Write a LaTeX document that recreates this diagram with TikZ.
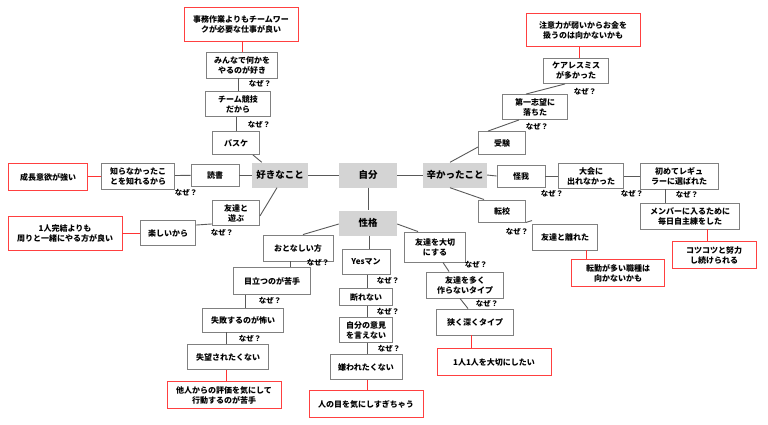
\documentclass[tikz,border=0pt]{standalone}
\usepackage{fontspec}
\setmainfont{Noto Sans CJK JP}
\begin{document}
\begin{tikzpicture}[x=1pt,y=-1pt,
 b/.style={draw=black!50,line width=0.9pt,fill=white,align=center,font=\fontsize{8}{10}\selectfont\bfseries,inner sep=1pt},
 g/.style={fill=black!17,align=center,font=\fontsize{9.5}{11}\selectfont\bfseries,minimum height=25pt},
 r/.style={draw=red!75!white,line width=0.9pt,fill=white,align=center,font=\fontsize{8}{10}\selectfont\bfseries,inner sep=1pt},
 ln/.style={draw=black!65,line width=0.9pt},
 rl/.style={draw=red!80!white,line width=1pt},
 q/.style={font=\fontsize{7.5}{9}\selectfont\bfseries}]
\useasboundingbox (0,0) rectangle (768,425);
\def\B#1#2#3#4#5#6{\node[#1,minimum width=#4pt,minimum height=#5pt] (#2) at #3 {#6};}
% centre
\node[g,minimum width=58pt] (me) at (368,175) {自分};
\node[g,minimum width=56pt] (like) at (280,175) {好きなこと};
\node[g,minimum width=60pt] (hard) at (455,175) {辛かったこと};
\node[g,minimum width=58pt] (per) at (368,223) {性格};
% like branch
\B{b}{bask}{(236,143)}{47}{23}{バスケ}
\B{b}{team}{(238,104)}{65}{25}{チーム競技\\だから}
\B{b}{minna}{(242,65)}{71}{26}{みんなで何かを\\やるのが好き}
\B{r}{jimu}{(241,24)}{114}{34}{事務作業よりもチームワー\\クが必要な仕事が良い}
\B{b}{doku}{(215,175)}{48}{22}{読書}
\B{b}{shira}{(138,176)}{73}{26}{知らなかったこ\\とを知れるから}
\B{r}{seicho}{(48,177)}{79}{27}{成長意欲が強い}
\B{b}{asobu}{(236,213)}{47}{25}{友達と\\遊ぶ}
\B{b}{tano}{(168,233)}{55}{25}{楽しいから}
\B{r}{hitori}{(65,233)}{114}{34}{1人完結よりも\\周りと一緒にやる方が良い}
% hard branch
\B{b}{juken}{(502,143)}{47}{23}{受験}
\B{b}{dai1}{(535,107)}{65}{25}{第一志望に\\落ちた}
\B{b}{care}{(576,71)}{65}{25}{ケアレスミス\\が多かった}
\B{r}{chui}{(583,30)}{114}{33}{注意力が弱いからお金を\\扱うのは向かないかも}
\B{b}{kega}{(521,176)}{48}{22}{怪我}
\B{b}{taikai}{(591,176)}{65}{25}{大会に\\出れなかった}
\B{b}{hajime}{(679,176)}{78}{26}{初めてレギュ\\ラーに選ばれた}
\B{b}{member}{(690,216)}{99}{26}{メンバーに入るために\\毎日自主練をした}
\B{r}{kotsu}{(714,255)}{84}{27}{コツコツと努力\\し続けられる}
\B{b}{tenko}{(502,211)}{47}{22}{転校}
\B{b}{hanare}{(565,237)}{65}{26}{友達と離れた}
\B{r}{tenkin}{(618,273)}{93}{27}{転勤が多い職種は\\向かないかも}
% personality
\B{b}{taisetsu}{(435,247)}{61}{30}{友達を大切\\にする}
\B{b}{ooku}{(465,285)}{77}{26}{友達を多く\\作らないタイプ}
\B{b}{semaku}{(475,322)}{77}{26}{狭く深くタイプ}
\B{r}{hitori2}{(494,362)}{114}{27}{1人1人を大切にしたい}
\B{b}{yes}{(366,262)}{48}{25}{Yesマン}
\B{b}{kotowa}{(366,297)}{53}{17}{断れない}
\B{b}{iken}{(366,330)}{53}{25}{自分の意見\\を言えない}
\B{b}{kira}{(366,367)}{72}{25}{嫌われたくない}
\B{r}{hitome}{(366,404)}{114}{27}{人の目を気にしすぎちゃう}
\B{b}{otona}{(298,248)}{70}{26}{おとなしい方}
\B{b}{medatsu}{(272,281)}{77}{27}{目立つのが苦手}
\B{b}{shippai}{(243,320)}{81}{24}{失敗するのが怖い}
\B{b}{shitsubo}{(228,357)}{81}{25}{失望されたくない}
\B{r}{tanin}{(224,395)}{114}{27}{他人からの評価を気にして\\行動するのが苦手}
% connectors
\draw[ln] (me) -- (like);
\draw[ln] (me) -- (hard);
\draw[ln] (me) -- (per);
\draw[ln] ([xshift=10pt]like.north west) -- ([xshift=-7pt]bask.south east);
\draw[ln] (bask.north) -- (bask.north |- team.south);
\draw[ln] (team.north) -- (team.north |- minna.south);
\draw[rl] (minna.north) -- (minna.north |- jimu.south);
\draw[ln] (like) -- (doku);
\draw[ln] (doku) -- (shira);
\draw[rl] (shira.west) -- (seicho.east |- shira.west);
\draw[ln] ([xshift=-3pt]like.south) -- ([yshift=-3pt]asobu.east);
\draw[ln] ([yshift=2pt]asobu.south west) -- ([yshift=-5pt]tano.north east);
\draw[rl] (tano) -- (hitori);
\draw[ln] ([xshift=-5pt]hard.north) -- ([yshift=-4pt]juken.west);
\draw[ln] ([xshift=10pt]juken.north west) -- ([xshift=-16pt]dai1.south);
\draw[ln] ([xshift=24pt]dai1.north west) -- ([xshift=-11pt]care.south);
\draw[rl] ([xshift=3pt]care.north) -- ([xshift=3pt]care.north |- chui.south);
\draw[ln] (hard.east) -- (kega.west);
\draw[ln] (kega) -- (taikai);
\draw[ln] (taikai) -- (hajime);
\draw[ln] ([xshift=-14pt]hajime.south) -- ([xshift=-14pt]hajime.south |- member.north);
\draw[rl] ([xshift=17pt]member.south) -- ([xshift=17pt]member.south |- kotsu.north);
\draw[ln] ([xshift=-5pt]hard.south) -- ([xshift=6pt]tenko.north west);
\draw[ln] (tenko.south east) -- ([yshift=3pt]hanare.north west);
\draw[rl] ([xshift=21pt]hanare.south) -- ([xshift=21pt]hanare.south |- tenkin.north);
\draw[ln] ([yshift=-1pt]per.east) -- ([xshift=-17pt]taisetsu.north);
\draw[ln] ([xshift=8pt]taisetsu.south) -- ([xshift=-16pt]ooku.north);
\draw[ln] ([xshift=-5pt]ooku.south) -- ([xshift=-7pt]semaku.north);
\draw[rl] ([xshift=-4pt]semaku.south) -- ([xshift=-4pt]semaku.south |- hitori2.north);
\draw[ln] ([xshift=1pt]per.south) -- ([xshift=1pt]per.south |- yes.north);
\draw[ln] ([xshift=1pt]yes.south) -- ([xshift=1pt]yes.south |- kotowa.north);
\draw[ln] ([xshift=1pt]kotowa.south) -- ([xshift=1pt]kotowa.south |- iken.north);
\draw[ln] ([xshift=1pt]iken.south) -- ([xshift=1pt]iken.south |- kira.north);
\draw[rl] ([xshift=1pt]kira.south) -- ([xshift=1pt]kira.south |- hitome.north);
\draw[ln] ([yshift=-1pt]per.west) -- ([xshift=5pt]otona.north);
\draw[ln] ([xshift=-8pt]otona.south) -- ([xshift=-8pt]otona.south |- medatsu.north);
\draw[ln] ([xshift=-27pt]medatsu.south) -- ([xshift=-27pt]medatsu.south |- shippai.north);
\draw[ln] ([xshift=-17pt]shippai.south) -- ([xshift=-17pt]shippai.south |- shitsubo.north);
\draw[rl] ([xshift=-2pt]shitsubo.south) -- ([xshift=-2pt]shitsubo.south |- tanin.north);
% labels
\node[q] (q1) at (260,84) {なぜ？};
\node[q] (q2) at (259,125) {なぜ？};
\node[q] (q3) at (186,193) {なぜ？};
\node[q] (q4) at (222,233) {なぜ？};
\node[q] (q5) at (318,263) {なぜ？};
\node[q] (q6) at (270,301) {なぜ？};
\node[q] (q7) at (250,339) {なぜ？};
\node[q] (q8) at (388,281) {なぜ？};
\node[q] (q9) at (388,312) {なぜ？};
\node[q] (q10) at (389,349) {なぜ？};
\node[q] (q11) at (476,265) {なぜ？};
\node[q] (q12) at (487,304) {なぜ？};
\node[q] (q13) at (517,232) {なぜ？};
\node[q] (q14) at (537,127) {なぜ？};
\node[q] (q15) at (585,92) {なぜ？};
\node[q] (q16) at (552,194) {なぜ？};
\node[q] (q17) at (632,194) {なぜ？};
\node[q] (q18) at (687,195) {なぜ？};
\end{tikzpicture}
\end{document}
